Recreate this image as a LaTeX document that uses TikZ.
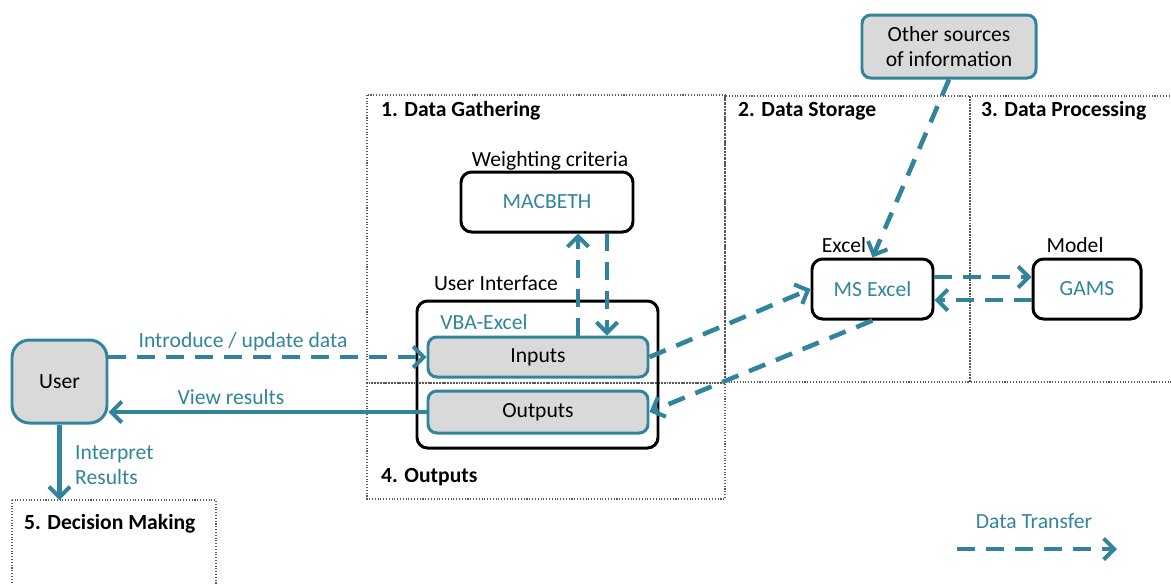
\documentclass[tikz,border=0pt]{standalone}
\usepackage{fontspec}
\setmainfont{Carlito}
\usetikzlibrary{arrows.meta}
\definecolor{flowteal}{RGB}{49,132,155}
\definecolor{boxgray}{RGB}{217,217,217}
\newcommand{\px}{0.02cm}
\newcommand{\flowwidth}{2.6pt}

\begin{document}
\begin{tikzpicture}[x=0.02cm, y=-0.02cm, font=\fontsize{12.3}{14.5}\selectfont,
  frame/.style={draw=black!65, densely dotted, line width=.6pt},
  heading/.style={anchor=west, font=\fontsize{12.3}{14.5}\selectfont\bfseries},
  tool/.style={draw=black, rounded corners=6pt, line width=1.7pt, text=flowteal, inner sep=0pt},
  part/.style={draw=flowteal, fill=boxgray, rounded corners=5pt, line width=1.7pt, inner sep=0pt},
  transfer/.style={draw=flowteal, line width=\flowwidth, dash pattern=on 10pt off 6.5pt,
    -{Straight Barb[length=6pt,width=12pt,line width=2.3pt]}},
  result/.style={draw=flowteal, line width=\flowwidth,
    -{Straight Barb[length=6pt,width=12pt,line width=2.3pt]}},
  tag/.style={text=flowteal}]
  \useasboundingbox (0,0) rectangle (1171,583);

        % stage frames
        \draw[frame] (367,95) rectangle (725,383);
        \draw[frame] (367,383) rectangle (725,499);
        \draw[frame] (725,96) rectangle (970,382);
        \draw[frame] (970,96) rectangle (1190,382);
        \draw[frame] (12,500) rectangle (216,600);
        \node at (375,111) [heading] {1. Data Gathering};
        \node at (732,111) [heading] {2. Data Storage};
        \node at (975,111) [heading] {3. Data Processing};
        \node at (375,477) [heading] {4. Outputs};
        \node at (18,524) [heading] {5. Decision Making};

        % boxes
        \node (others) at (949,46.5) [part, minimum width=174*\px, minimum height=63*\px, align=center] {Other sources\\of information};
        \node (macbeth) at (547,202) [tool, minimum width=172*\px, minimum height=60*\px] {MACBETH};
        \node (ui) at (537.5,374.5) [tool, minimum width=241*\px, minimum height=147*\px] {};
        \node (inputs) at (538,357) [part, minimum width=220*\px, minimum height=40*\px] {Inputs};
        \node (outputs) at (538,412) [part, minimum width=220*\px, minimum height=42*\px] {Outputs};
        \node (excel) at (872.5,289) [tool, minimum width=121*\px, minimum height=60*\px] {MS Excel};
        \node (gams) at (1087,289) [tool, minimum width=108*\px, minimum height=60*\px] {GAMS};
        \node (user) at (59.5,381.5) [part, rounded corners=10pt, minimum width=95*\px, minimum height=83*\px] {User};

        \node (weighting) at (550,161) {Weighting criteria};
        \node (uilabel) at (496,283) {User Interface};
        \node (vba) at (484,322) [tag] {VBA-Excel};
        \node (excellabel) at (844,245) {Excel};
        \node (modellabel) at (1075,245) {Model};

        % flows
        \coordinate (upx) at (578,0);
        \coordinate (downx) at (607,0);
        \coordinate (dmtop) at (60,500);
        \draw[transfer] (user.east |- inputs.west) -- (inputs.west);
        \draw[result] (outputs.west) -- (user.east |- outputs.west);
        \draw[result] (user.south) -- (user.south |- dmtop);
        \draw[transfer] (inputs.north -| upx) -- (macbeth.south -| upx);
        \draw[transfer] (macbeth.south -| downx) -- (inputs.north -| downx);
        \draw[transfer] (inputs.east) -- (excel.west);
        \draw[transfer] (excel.south) -- (outputs.east);
        \draw[transfer] ([yshift=.24cm]excel.east) -- ([yshift=.24cm]gams.west);
        \draw[transfer] ([yshift=-.22cm]gams.west) -- ([yshift=-.22cm]excel.east);
        \draw[transfer] (others.south) -- (excel.north);

        \node (introduce) at (243,342) [tag] {Introduce / update data};
        \node (view) at (231,397) [tag] {View results};
        \node (interpret) at (69,465) [tag, anchor=west, align=left] {Interpret\\Results};

        % legend
        \node (legend) at (1034,521) [tag] {Data Transfer};
        \coordinate (legA) at (957,549);
        \coordinate (legB) at (1117,549);
        \draw[transfer] (legA) -- (legB);
\end{tikzpicture}
\end{document}
